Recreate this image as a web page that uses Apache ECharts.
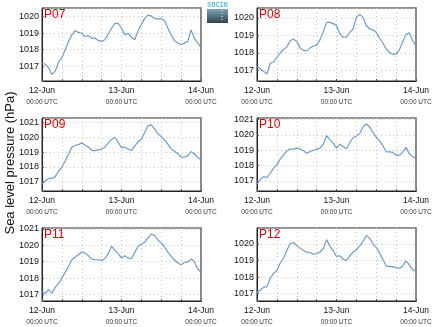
<!DOCTYPE html>
<html>
<head>
<meta charset="utf-8">
<script src="https://cdn.jsdelivr.net/npm/echarts@6/dist/echarts.min.js"></script>
<style>
  html, body { margin: 0; padding: 0; background: #fff; }
  #chart { width: 435px; height: 327px; }
</style>
</head>
<body>
<div id="chart"></div>
<script>
// Hourly sea level pressure (hPa), 12-Jun 00:00 UTC to 14-Jun 00:00 UTC
const stations = ['P07', 'P08', 'P09', 'P10', 'P11', 'P12'];
const dayLabels = ['12-Jun', '13-Jun', '14-Jun'];
const timeLabel = '00:00 UTC';
const hoursPerDay = 24;

const p07 = [1017.16, 1017.12, 1016.9, 1016.5, 1016.7, 1017.25, 1017.5, 1018.0, 1018.5, 1018.9,
  1019.15, 1019.05, 1019.0, 1018.8, 1018.85, 1018.7, 1018.7, 1018.55, 1018.5, 1018.6,
  1018.95, 1019.3, 1019.6, 1019.6, 1019.3, 1018.9, 1019.0, 1018.75, 1018.6, 1019.15,
  1019.55, 1019.9, 1020.1, 1020.05, 1019.9, 1019.85, 1019.9, 1019.75, 1019.3, 1018.9,
  1018.55, 1018.4, 1018.3, 1018.4, 1018.5, 1019.2, 1018.7, 1018.4, 1018.15];
const p08 = [1017.23, 1017.1, 1016.95, 1016.8, 1017.4, 1017.5, 1017.75, 1018.0, 1018.2, 1018.35,
  1018.7, 1018.8, 1018.65, 1018.3, 1018.15, 1018.12, 1018.28, 1018.4, 1018.45, 1018.75,
  1019.2, 1019.75, 1019.75, 1019.68, 1019.55, 1019.1, 1018.9, 1018.9, 1019.18, 1019.37,
  1020.05, 1020.2, 1020.05, 1019.57, 1019.37, 1019.33, 1019.18, 1018.85, 1018.57, 1018.22,
  1018.03, 1017.93, 1017.93, 1018.18, 1018.66, 1019.05, 1019.15, 1018.7, 1018.41];
const p09 = [1016.84, 1017.05, 1017.22, 1017.22, 1017.34, 1017.72, 1017.97, 1018.4, 1018.85, 1019.33,
  1019.46, 1019.5, 1019.62, 1019.48, 1019.33, 1019.12, 1019.1, 1019.15, 1019.2, 1019.33,
  1019.6, 1019.85, 1020.0, 1019.65, 1019.3, 1019.33, 1019.2, 1019.1, 1019.4, 1019.7,
  1019.87, 1020.32, 1020.77, 1020.84, 1020.57, 1020.23, 1020.05, 1019.82, 1019.53, 1019.21,
  1019.05, 1018.88, 1018.67, 1018.65, 1018.76, 1019.03, 1018.87, 1018.65, 1018.47];
const p10 = [1016.78, 1017.1, 1017.28, 1017.22, 1017.5, 1017.83, 1018.05, 1018.42, 1018.7, 1018.97,
  1019.08, 1019.08, 1019.14, 1019.08, 1018.97, 1018.81, 1018.92, 1018.99, 1019.08, 1019.14,
  1019.4, 1019.95, 1019.7, 1019.47, 1019.14, 1019.4, 1019.25, 1019.1, 1019.51, 1019.82,
  1019.93, 1020.08, 1020.52, 1020.72, 1020.52, 1020.17, 1019.86, 1019.62, 1019.3, 1018.9,
  1018.9, 1018.86, 1018.66, 1018.68, 1018.88, 1019.19, 1018.75, 1018.6, 1018.49];
const p11 = [1017.18, 1017.06, 1017.29, 1017.08, 1017.43, 1017.67, 1018.0, 1018.35, 1018.71, 1019.12,
  1019.29, 1019.43, 1019.59, 1019.53, 1019.37, 1019.16, 1019.12, 1019.12, 1019.08, 1019.2,
  1019.49, 1019.95, 1019.7, 1019.49, 1019.22, 1019.37, 1019.22, 1019.18, 1019.57, 1019.94,
  1020.06, 1020.2, 1020.45, 1020.69, 1020.61, 1020.31, 1020.14, 1019.9, 1019.59, 1019.33,
  1019.12, 1018.92, 1018.82, 1018.96, 1018.98, 1019.16, 1019.02, 1018.57, 1018.35];
const p12 = [1017.06, 1017.22, 1017.38, 1017.42, 1017.93, 1018.23, 1018.39, 1018.83, 1019.13, 1019.6,
  1020.0, 1020.08, 1019.9, 1019.74, 1019.6, 1019.5, 1019.48, 1019.38, 1019.4, 1019.5,
  1019.7, 1020.25, 1019.85, 1019.6, 1019.24, 1019.28, 1019.07, 1018.99, 1019.28, 1019.5,
  1019.64, 1019.88, 1020.14, 1020.5, 1020.34, 1020.0, 1019.78, 1019.44, 1019.07, 1018.67,
  1018.63, 1018.63, 1018.57, 1018.53, 1018.67, 1018.97, 1018.73, 1018.43, 1018.33];

const seriesValues = [p07, p08, p09, p10, p11, p12];
// Vertical extent of each panel's pressure axis
const yMins = [1016.1, 1016.4, 1016.37, 1016.34, 1016.6, 1016.56];
const yMaxs = [1020.53, 1020.57, 1021.3, 1021.11, 1021.06, 1020.95];

const FONT = 'Liberation Sans, Arial, Helvetica, sans-serif';
const LINE_COLOR = '#6f9cc6';
const colLeft = [42, 257];
const rowTop = [8, 118, 228];
const panelW = 159;
const panelH = 73;

const grids = [], xAxes = [], yAxes = [], series = [], titles = [];

stations.forEach((name, i) => {
  const col = i % 2, row = Math.floor(i / 2);
  grids.push({
    left: colLeft[col], top: rowTop[row], width: panelW, height: panelH,
    show: true, borderColor: '#222', borderWidth: 1, backgroundColor: '#fff',
    containLabel: false, outerBoundsMode: 'none'
  });
  xAxes.push({
    type: 'value', gridIndex: i, min: 0, max: 2 * hoursPerDay, interval: 6,
    axisLine: { show: true, lineStyle: { color: '#222', width: 1 } },
    axisTick: { show: true, inside: true, length: 2, lineStyle: { color: '#555' } },
    splitLine: { show: true, lineStyle: { color: '#c4c4c4', type: [1, 3], width: 1 } },
    axisLabel: {
      show: true, margin: 4, showMinLabel: true, showMaxLabel: true, hideOverlap: false,
      formatter: v => (v % hoursPerDay === 0 ? '{d|' + dayLabels[v / hoursPerDay] + '}\n{t|' + timeLabel + '}' : ''),
      rich: {
        d: { fontFamily: FONT, fontSize: 8.5, color: '#111', lineHeight: 12 },
        t: { fontFamily: FONT, fontSize: 6.5, color: '#333', lineHeight: 10 }
      }
    }
  });
  yAxes.push({
    type: 'value', gridIndex: i, min: yMins[i], max: yMaxs[i],
    minInterval: 1, maxInterval: 1,
    axisLine: { show: true, lineStyle: { color: '#222', width: 1 } },
    axisTick: { show: true, inside: true, length: 2, lineStyle: { color: '#555' } },
    splitLine: { show: true, lineStyle: { color: '#c4c4c4', type: [1, 3], width: 1 } },
    axisLabel: {
      show: true, margin: 3, fontFamily: FONT, fontSize: 9, color: '#111',
      showMinLabel: true, showMaxLabel: true, hideOverlap: false,
      formatter: v => (Math.abs(v - Math.round(v)) < 1e-6 ? String(Math.round(v)) : '')
    }
  });
  // grey right-hand frame edge
  yAxes.push({
    type: 'value', gridIndex: i, position: 'right', min: yMins[i], max: yMaxs[i],
    axisLine: { show: true, lineStyle: { color: '#8a8a8a', width: 2 } },
    axisTick: { show: false }, axisLabel: { show: false }, splitLine: { show: false }
  });
  series.push({
    type: 'line', name: name, xAxisIndex: i, yAxisIndex: 2 * i,
    data: seriesValues[i].map((v, h) => [h, v]),
    showSymbol: false, symbol: 'none', smooth: false,
    lineStyle: { color: LINE_COLOR, width: 1.2 },
    animation: false, silent: true
  });
  titles.push({
    text: name, left: colLeft[col] + 2, top: rowTop[row] + 1,
    textStyle: { fontFamily: FONT, fontSize: 12, fontWeight: 'normal', color: '#e00000' },
    padding: 0
  });
});

const chart = echarts.init(document.getElementById('chart'), null, { renderer: 'canvas' });
chart.setOption({
  animation: false,
  backgroundColor: '#fff',
  title: titles,
  grid: grids,
  xAxis: xAxes,
  yAxis: yAxes,
  series: series,
  graphic: [
    {
      type: 'text', x: 10, y: 163, rotation: Math.PI / 2,
      style: {
        text: 'Sea level pressure (hPa)', fontFamily: FONT, fontSize: 13, fill: '#111',
        align: 'center', verticalAlign: 'middle'
      }
    },
    {
      type: 'group', x: 207, y: 2,
      children: [
        {
          type: 'text', x: 10.5, y: 0,
          style: { text: 'SOCIB', fontFamily: 'DejaVu Sans Mono, monospace', fontSize: 7, fontWeight: 'bold', fill: '#59c3dc', align: 'center', verticalAlign: 'top' }
        },
        {
          type: 'rect', shape: { x: 0, y: 7, width: 21, height: 14 },
          style: {
            fill: new echarts.graphic.LinearGradient(0, 0, 0, 1, [
              { offset: 0, color: '#7fa3b1' },
              { offset: 1, color: '#2f4350' }
            ])
          }
        },
        {
          type: 'line', shape: { x1: 15, y1: 8, x2: 15, y2: 20 },
          style: { stroke: '#ffffff', lineWidth: 1, lineDash: [1, 2] }
        }
      ]
    }
  ]
});
</script>
</body>
</html>
